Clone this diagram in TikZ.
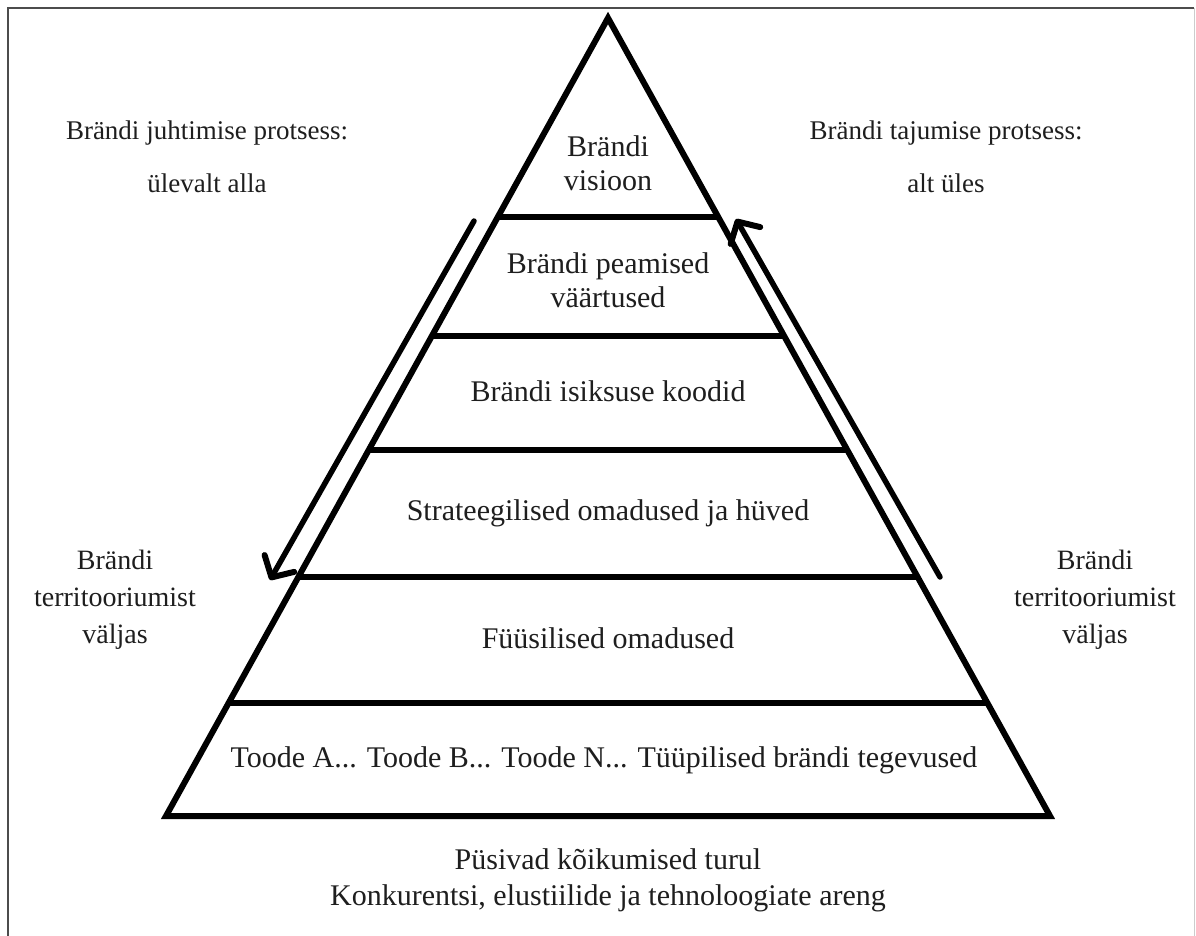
\documentclass[tikz,border=0pt]{standalone}
\usepackage{fontspec}
\setmainfont{Liberation Serif}
\usetikzlibrary{arrows.meta,calc}
\definecolor{txt}{HTML}{1E1E1E}
\tikzset{
  pyr/.style={line width=6pt,black},
  lvl/.style={line width=6pt,black},
  proc/.style={line width=5.5pt,black,line cap=round,-{Straight Barb[length=16pt,width=34pt,line width=6pt,round]}},
  intext/.style={font=\fontsize{30}{34}\selectfont,text=txt,align=center,inner sep=0pt},
  sidetext/.style={font=\fontsize{28}{37}\selectfont,text=txt,align=center,inner sep=0pt},
}
\begin{document}
\begin{tikzpicture}[x=1pt,y=-1pt]
\useasboundingbox (0,0) rectangle (1196,936);
\fill[white] (0,0) rectangle (1196,936);
% frame
\draw[line width=1.5pt,color=black!70] (8,936) -- (8,8) -- (1194,8);
\draw[line width=1pt,color=black!20] (1194,8) -- (1194,936);
% pyramid
\coordinate (A) at (608,18);
\coordinate (BL) at (166,816);
\coordinate (BR) at (1050,816);
\draw[pyr,line join=miter] (A) -- (BL) -- (BR) -- cycle;
\foreach \n/\f in {1/0.2494,2/0.3985,3/0.5414,4/0.7005,5/0.8584}{
  \coordinate (l\n) at ($(A)!\f!(BL)$);
  \coordinate (r\n) at ($(A)!\f!(BR)$);
  \draw[lvl] (l\n) -- (r\n);
}
% arrows
\coordinate (la1) at (474,221);
\coordinate (la2) at (270,580);
\coordinate (ra1) at (940,577);
\coordinate (ra2) at (736,219);
\draw[proc] (la1) -- (la2);
\draw[proc] (ra1) -- (ra2);
% texts in levels
\node[intext] (t1) at (608,163) {Brändi\\visioon};
\node[intext] (t2) at (608,280) {Brändi peamised\\väärtused};
\node[intext] (t3) at (608,391) {Brändi isiksuse koodid};
\node[intext] (t4) at (608,513) {Strateegilised omadused ja hüved};
\node[intext] (t5) at (608,638) {Füüsilised omadused};
\node[intext] (t6) at (604,760) {Toode A... Toode B... Toode N... Tüüpilised brändi tegevused};
% side texts
\node[sidetext,font=\fontsize{27}{53}\selectfont] (s1) at (207,157) {Brändi juhtimise protsess:\\ülevalt alla};
\node[sidetext,font=\fontsize{27}{53}\selectfont] (s2) at (946,157) {Brändi tajumise protsess:\\alt üles};
\node[sidetext] (s3) at (115,600) {Brändi\\territooriumist\\väljas};
\node[sidetext] (s4) at (1095,600) {Brändi\\territooriumist\\väljas};
% bottom text
\node[intext,font=\fontsize{30}{36}\selectfont] (b1) at (608,880) {Püsivad kõikumised turul\\Konkurentsi, elustiilide ja tehnoloogiate areng};
\end{tikzpicture}
\end{document}
